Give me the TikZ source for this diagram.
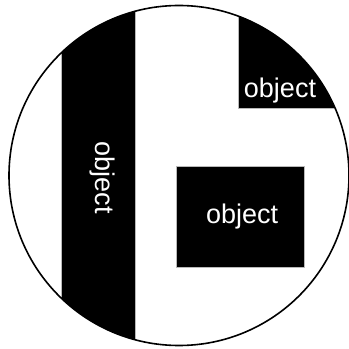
\documentclass[tikz,border=0pt]{standalone}
\usepackage{fontspec}
\setmainfont{Liberation Sans}
\begin{document}
\begin{tikzpicture}[x=1pt,y=1pt,
  objbox/.style={fill=black, draw=gray!55, line width=0.6pt},
  objlabel/.style={text=white, font=\fontsize{27}{27}\selectfont, inner sep=0pt}]
\useasboundingbox (0,0) rectangle (349,349);
\fill[white] (0,0) rectangle (349,349);
\coordinate (c) at (179,173.5);
\begin{scope}
  \clip (c) circle (170);
  \draw[objbox] (61,-10) rectangle (135,360);
  \draw[objbox] (238,241) rectangle (360,360);
\end{scope}
\draw[objbox] (176,82) rectangle (304,183);
\draw[line width=1.6pt] (c) circle (170);
\node[objlabel, anchor=base] (t1) at (280,251.5) {object};
\node[objlabel, anchor=base] (t2) at (242.2,125.7) {object};
\node[objlabel, anchor=base, rotate=-90] (t3) at (95.5,171.5) {object};
\end{tikzpicture}
\end{document}
